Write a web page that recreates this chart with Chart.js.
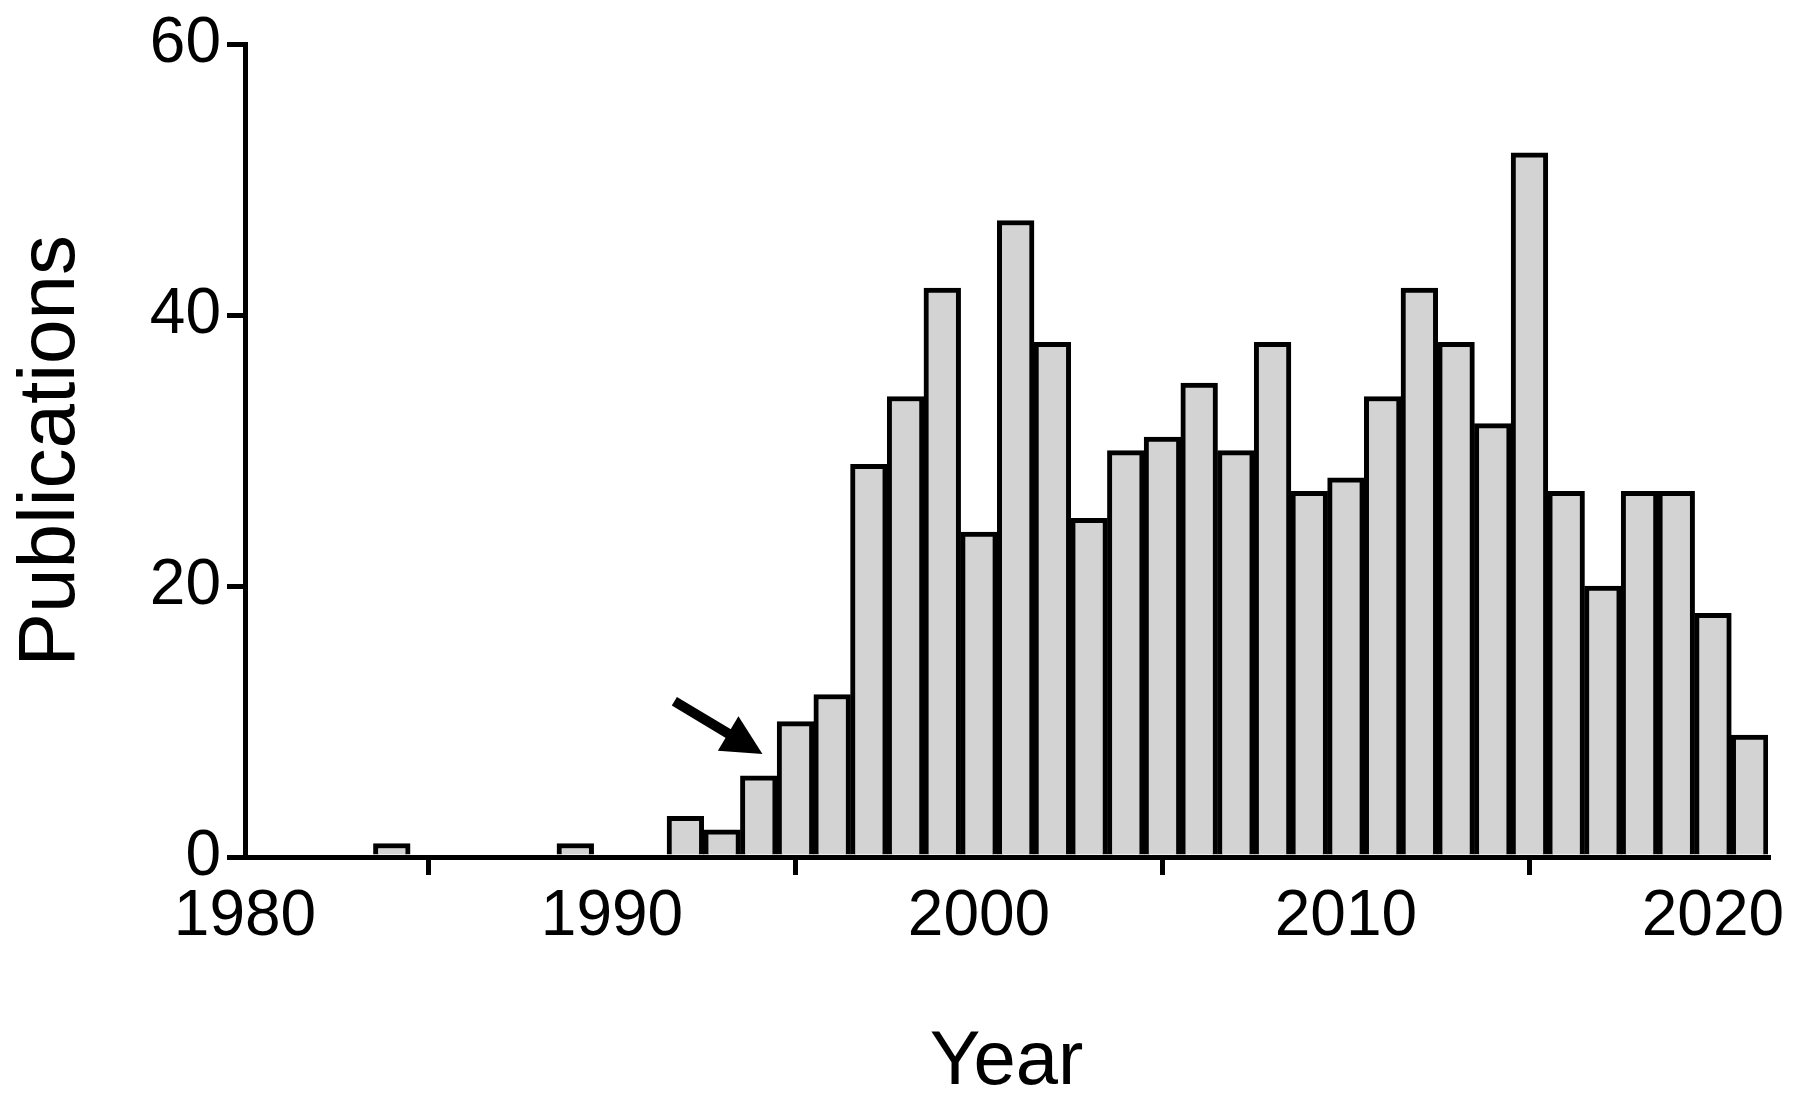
<!DOCTYPE html>
<html><head><meta charset="utf-8">
<script src="https://cdn.jsdelivr.net/npm/chart.js@4"></script>
<style>html,body{margin:0;background:#fff}#w{width:1800px;height:1113px}</style>
</head><body><div id="w"><canvas id="c"></canvas></div>
<script>
const years=[1984,1989,1992,1993,1994,1995,1996,1997,1998,1999,2000,2001,2002,2003,2004,2005,2006,2007,2008,2009,2010,2011,2012,2013,2014,2015,2016,2017,2018,2019,2020,2021];
const pubs=[1,1,3,2,6,10,12,29,34,42,24,47,38,25,30,31,35,30,38,27,28,34,42,38,32,52,27,20,27,27,18,9];
const xTicks=[1980,1990,2000,2010,2020];
const yTicks=[0,20,40,60];
const arrowPlugin={id:'arrow',afterDatasetsDraw(ch){
  const x=ch.scales.x,y=ch.scales.y,c=ch.ctx;
  const x1=x.getPixelForValue(1991.7),y1=y.getPixelForValue(11.5);
  const x2=x.getPixelForValue(1994.1),y2=y.getPixelForValue(7.6);
  const a=Math.atan2(y2-y1,x2-x1);
  c.save();c.strokeStyle='#000';c.fillStyle='#000';c.lineWidth=10;
  const L=40;
  c.beginPath();c.moveTo(x1,y1);c.lineTo(x2-L*0.8*Math.cos(a),y2-L*0.8*Math.sin(a));c.stroke();
  c.beginPath();c.moveTo(x2,y2);
  c.lineTo(x2-L*Math.cos(a)+20*Math.sin(a),y2-L*Math.sin(a)-20*Math.cos(a));
  c.lineTo(x2-L*Math.cos(a)-20*Math.sin(a),y2-L*Math.sin(a)+20*Math.cos(a));
  c.closePath();c.fill();c.restore();
}};
Chart.defaults.font.family='"Liberation Sans", Arial, sans-serif';
Chart.defaults.color='#000';
new Chart(document.getElementById('c'),{
  type:'bar',
  data:{datasets:[{data:years.map((v,i)=>({x:v,y:pubs[i]})),backgroundColor:'#d3d3d3',borderColor:'#000',borderWidth:5,barPercentage:1,categoryPercentage:1,grouped:false}]},
  options:{responsive:true,maintainAspectRatio:false,animation:false,
    layout:{padding:{top:28,right:32,left:0,bottom:0}},
    plugins:{legend:{display:false},tooltip:{enabled:false}},
    scales:{
      x:{type:'linear',min:1980,max:2021.5,offset:false,
        afterBuildTicks:s=>{s.ticks=xTicks.map(v=>({value:v}))},
        afterFit:s=>{s.height=256},
        grid:{display:true,drawOnChartArea:false,drawTicks:true,tickLength:18,lineWidth:5,color:'#000'},
        border:{display:true,color:'#000',width:5},
        ticks:{font:{size:64},padding:4,maxRotation:0,autoSkip:false,callback:v=>String(v)},
        title:{display:true,text:'Year',font:{size:76},padding:{top:50}}},
      y:{min:0,max:60,
        afterBuildTicks:s=>{s.ticks=yTicks.map(v=>({value:v}))},
        afterFit:s=>{s.width=245},
        grid:{display:true,drawOnChartArea:false,drawTicks:true,tickLength:18,lineWidth:5,color:'#000'},
        border:{display:true,color:'#000',width:5},
        ticks:{font:{size:64},padding:6},
        title:{display:true,text:'Publications',font:{size:80},padding:{bottom:4}}}
    }},
  plugins:[arrowPlugin]
});
</script></body></html>
